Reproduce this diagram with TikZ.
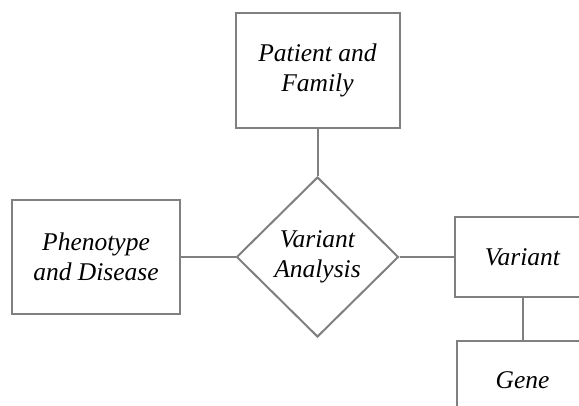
\documentclass[tikz,border=0pt]{standalone}
\usepackage{fontspec}
\setmainfont{Liberation Serif}
\usetikzlibrary{shapes.geometric}
\definecolor{linegray}{RGB}{128,128,128}
\begin{document}
\begin{tikzpicture}[x=1pt,y=-1pt,
  entity/.style={draw=linegray, line width=2pt, align=center, inner sep=0pt,
    font=\itshape\fontsize{25.5}{30}\selectfont},
  relation/.style={diamond, draw=linegray, line width=2pt, align=center, inner sep=0pt,
    font=\itshape\fontsize{25.5}{30}\selectfont},
  link/.style={draw=linegray, line width=2pt}]
\useasboundingbox[fill=white] (0,0) rectangle (579,405);
\node[entity, minimum width=164pt, minimum height=115pt] (patient) at (317.5,70.5) {Patient and\\Family};
\node[entity, minimum width=168pt, minimum height=114pt] (pheno) at (96,257) {Phenotype\\and Disease};
\node[relation, minimum width=162pt, minimum height=160pt] (va) at (317.5,257) {Variant\\Analysis};
\node[entity, minimum width=135pt, minimum height=80pt] (variant) at (522.5,257) {Variant};
\node[entity, minimum width=131pt, minimum height=78pt] (gene) at (522.5,380) {Gene};
\draw[link] (patient.south) -- (va.north);
\draw[link] (pheno.east) -- (va.west);
\draw[link] (va.east) -- (variant.west);
\draw[link] (variant.south) -- (gene.north);
\end{tikzpicture}
\end{document}
